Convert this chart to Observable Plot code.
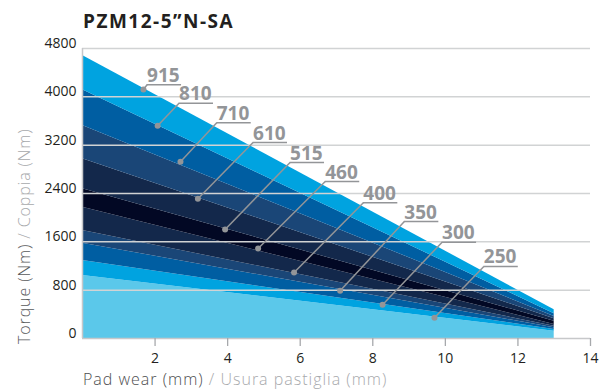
<!DOCTYPE html>
<html><head><meta charset="utf-8">
<script src="https://cdn.jsdelivr.net/npm/d3@7"></script>
<script src="https://cdn.jsdelivr.net/npm/@observablehq/plot@0.6"></script>
<style>
body{margin:0;background:#fff;}
#wrap{position:relative;width:606px;height:389px;overflow:hidden;}
</style></head><body><div id="wrap"></div>
<script>
// Band series (pad material / radius labels), bottom to top
const series = ["250","300","350","400","460","515","610","710","810","915"];
// Pad wear range (mm) over which the bands are drawn
const wearRange = [0, 13];
// Upper edge of each band (Nm) at zero wear and at 13 mm wear
const topAtStart = [1043,1291,1578,1788,2174,2478,2975,3526,4117,4685];
const topAtEnd   = [121,149,177,204,232,287,326,364,409,475];
// Band colours
const bandColors = ["#5bc8ea","#00a3e0","#005ea2","#1a4677","#13284b","#020824","#13284b","#1a4677","#005ea2","#00a3e0"];
// Callout dots (on each band) and label anchors
const dotX   = [9.70,8.27,7.10,5.83,4.84,3.93,3.18,2.70,2.07,1.68];
const dotY   = [343,558,789,1092,1490,1804,2312,2925,3520,4121];
const labelX = [11.06,9.91,8.87,7.74,6.69,5.72,4.70,3.70,2.66,1.78];
const labelY = [1192,1594,1936,2246,2598,2913,3244,3570,3894,4199];
// Axis ticks
const yTicks = [0,800,1600,2400,3200,4000,4800];
const xTicks = [2,4,6,8,10,12,14];

const bandRows = [];
series.forEach((s, i) => {
  [topAtStart, topAtEnd].forEach((tops, j) => {
    bandRows.push({series: s, x: wearRange[j], y1: i === 0 ? 0 : tops[i - 1], y2: tops[i]});
  });
});
const calloutRows = series.map((s, i) => ({s, dx: dotX[i], dy: dotY[i], lx: labelX[i], ly: labelY[i]}));

const gray = "#939598";
const font = "'Open Sans', sans-serif";

const chart = Plot.plot({
  width: 606, height: 389,
  marginLeft: 82, marginRight: 16, marginTop: 48, marginBottom: 51,
  x: {domain: [0, 14]},
  y: {domain: [0, 4800], axis: null},
  color: {domain: series, range: bandColors},
  style: {fontFamily: font, background: "transparent", overflow: "visible"},
  marks: [
    Plot.areaY(bandRows, {x: "x", y1: "y1", y2: "y2", z: "series", fill: "series"}),
    Plot.ruleY(yTicks.filter(d => d > 0), {x1: 0, x2: 14, stroke: "#d1d3d4", strokeWidth: 1.5}),
    Plot.ruleY([0], {x1: 0, x2: 14, stroke: "#c7c8ca", strokeWidth: 1.5}),
    Plot.ruleX([0], {y1: 0, y2: 4800, stroke: "#c7c8ca", strokeWidth: 1.5}),
    Plot.axisX(xTicks, {tickSize: 8, tickPadding: 7, stroke: "#a7a9ac", strokeWidth: 1.3, fontSize: 14, fill: "#231f20", label: null}),
    Plot.text(yTicks, {x: 0, y: d => d, text: d => String(d), textAnchor: "end", dx: -6, dy: -5, fontSize: 14, fill: "#231f20"}),
    Plot.link(calloutRows, {x1: "dx", y1: "dy", x2: "lx", y2: "ly", stroke: gray, strokeWidth: 1.5}),
    Plot.ruleY(calloutRows, {y: "ly", x1: "lx", x2: d => d.lx + 0.95, stroke: gray, strokeWidth: 1.5}),
    Plot.dot(calloutRows, {x: "dx", y: "dy", r: 3, fill: gray}),
    Plot.text(calloutRows, {x: "lx", y: "ly", text: "s", textAnchor: "start", lineAnchor: "bottom", dy: -3, fontSize: 19, fontWeight: 700, fill: gray})
  ]
});

document.getElementById("wrap").appendChild(chart);
const svg = d3.select(chart);
svg.append("text").attr("x", 83).attr("y", 28).attr("text-anchor", "start")
  .attr("font-family", font).attr("font-size", 19).attr("font-weight", 700)
  .attr("letter-spacing", 1.5).attr("fill", "#231f20").text("PZM12-5\u201DN-SA");
const xt = svg.append("text").attr("x", 83).attr("y", 385).attr("text-anchor", "start")
  .attr("font-family", font).attr("font-size", 16).attr("font-weight", 300).attr("letter-spacing", 1.0);
xt.append("tspan").attr("fill", "#4d4e50").text("Pad wear (mm) ");
xt.append("tspan").attr("fill", "#a7a9ac").text("/ Usura pastiglia (mm)");
const yt = svg.append("text").attr("transform", "translate(29.5,344) rotate(-90)").attr("text-anchor", "start")
  .attr("font-family", font).attr("font-size", 16).attr("font-weight", 300).attr("letter-spacing", 0.9);
yt.append("tspan").attr("fill", "#58595b").text("Torque (Nm) ");
yt.append("tspan").attr("fill", "#a7a9ac").text("/ Coppia (Nm)");
</script></body></html>
